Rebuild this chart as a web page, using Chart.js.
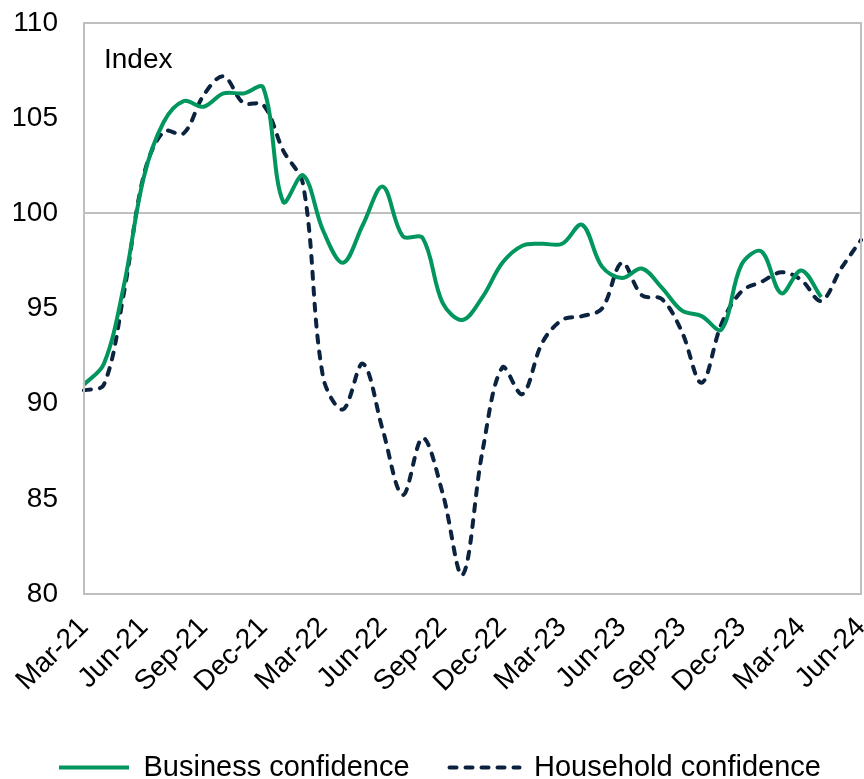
<!DOCTYPE html>
<html>
<head>
<meta charset="utf-8">
<script src="https://cdn.jsdelivr.net/npm/chart.js@4.4.1/dist/chart.umd.min.js"></script>
<style>
  html, body { margin: 0; padding: 0; background: #fff; }
  #wrap { width: 864px; height: 779px; }
</style>
</head>
<body>
<div id="wrap"><canvas id="confChart"></canvas></div>
<script>
// monthly categories, Mar-21 .. Jun-24
var months = [
  "Mar-21","Apr-21","May-21","Jun-21","Jul-21","Aug-21","Sep-21","Oct-21","Nov-21","Dec-21",
  "Jan-22","Feb-22","Mar-22","Apr-22","May-22","Jun-22","Jul-22","Aug-22","Sep-22","Oct-22",
  "Nov-22","Dec-22","Jan-23","Feb-23","Mar-23","Apr-23","May-23","Jun-23","Jul-23","Aug-23",
  "Sep-23","Oct-23","Nov-23","Dec-23","Jan-24","Feb-24","Mar-24","Apr-24","May-24","Jun-24"
];

var business = [
  91.0, 92.1, 96.2, 101.9, 104.8, 105.9, 105.6, 106.3, 106.3, 106.6,
  100.6, 102.0, 99.1, 97.4, 99.4, 101.4, 98.8, 98.7, 95.3, 94.4,
  95.6, 97.4, 98.3, 98.4, 98.4, 99.4, 97.2, 96.6, 97.1, 96.1,
  94.9, 94.6, 93.9, 97.3, 98.0, 95.8, 97.0, 95.6
];

var household = [
  90.7, 91.0, 95.8, 102.0, 104.3, 104.2, 106.2, 107.2, 105.8, 105.7,
  103.3, 101.5, 91.4, 89.7, 92.1, 88.6, 85.2, 88.2, 85.3, 81.0,
  87.5, 91.9, 90.5, 93.2, 94.4, 94.6, 95.0, 97.4, 95.7, 95.5,
  93.8, 91.1, 94.2, 95.9, 96.4, 96.9, 96.5, 95.4, 97.1, 98.6
];

var yMin = 80, yMax = 110, yStep = 5;
var refLine = 100;
var unitLabel = "Index";

var FONT = "'Liberation Sans', Arial, sans-serif";
var GRID = "#bfbfbf";

// frame round the plot area + unit label inside it
var frame = {
  id: "frame",
  afterDraw: function(chart) {
    var a = chart.chartArea, ctx = chart.ctx;
    ctx.save();
    ctx.strokeStyle = GRID;
    ctx.lineWidth = 2;
    ctx.strokeRect(a.left, a.top, a.right - a.left, a.bottom - a.top);
    ctx.fillStyle = "#000";
    ctx.font = "28px " + FONT;
    ctx.textBaseline = "middle";
    ctx.fillText(unitLabel, a.left + 20, a.top + 37);
    ctx.restore();
  }
};

var ctx = document.getElementById("confChart");
var chart = new Chart(ctx, {
  type: "line",
  data: {
    labels: months,
    datasets: [{
      label: "Business confidence",
      data: business,
      borderColor: "#00965e",
      borderWidth: 4,
      pointRadius: 0,
      tension: 0.35,
      fill: false
    }, {
      label: "Household confidence",
      data: household,
      borderColor: "#0c2340",
      borderWidth: 4,
      borderDash: [7, 9],
      borderCapStyle: "round",
      pointRadius: 0,
      tension: 0.35,
      fill: false
    }]
  },
  options: {
    responsive: true,
    maintainAspectRatio: false,
    animation: false,
    layout: { padding: { left: 14, right: 3, top: 23, bottom: 0 } },
    plugins: {
      tooltip: { enabled: false },
      legend: {
        position: "bottom",
        align: "end",
        maxHeight: 66,
        labels: {
          font: { family: FONT, size: 29 },
          color: "#000",
          usePointStyle: true,
          pointStyle: "line",
          pointStyleWidth: 70,
          boxHeight: 29,
          padding: 40,
          generateLabels: function(chart) {
            var items = Chart.defaults.plugins.legend.labels.generateLabels(chart);
            items.forEach(function(it) {
              var ds = chart.data.datasets[it.datasetIndex];
              it.lineDash = ds.borderDash || [];
              it.lineWidth = ds.borderWidth;
              it.strokeStyle = ds.borderColor;
              it.lineCap = ds.borderCapStyle || "butt";
            });
            return items;
          }
        }
      }
    },
    scales: {
      x: {
        grid: { display: false, drawTicks: false },
        border: { display: false },
        afterFit: function(s) { s.paddingLeft = 0; s.paddingRight = 0; s.height = 119; },
        ticks: {
          autoSkip: false,
          minRotation: 45,
          maxRotation: 45,
          padding: 17,
          color: "#000",
          font: { family: FONT, size: 28 },
          callback: function(val, i) { return i % 3 === 0 ? months[i] : ""; }
        }
      },
      y: {
        min: yMin,
        max: yMax,
        afterFit: function(s) { s.paddingTop = 0; s.paddingBottom = 0; s.width = 70; },
        grid: {
          drawTicks: false,
          lineWidth: 2,
          color: function(c) { return c.tick && c.tick.value === refLine ? GRID : "rgba(0,0,0,0)"; }
        },
        border: { display: false },
        ticks: {
          stepSize: yStep,
          padding: 26,
          color: "#000",
          font: { family: FONT, size: 28 }
        }
      }
    }
  },
  plugins: [frame]
});
</script>
</body>
</html>
